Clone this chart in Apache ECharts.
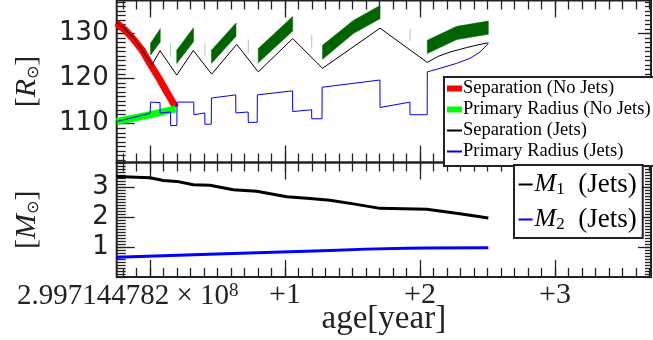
<!DOCTYPE html>
<html><head><meta charset="utf-8">
<script src="https://cdn.jsdelivr.net/npm/echarts@6/dist/echarts.min.js"></script>
<style>html,body{margin:0;padding:0;background:#fff}#c{width:653px;height:340px}</style>
</head><body><div id="c"></div>
<script>
// ---- data (x = years after offset, y = value) ----
const sepNoJets = [[-0.247,132.35],[-0.185,130.8],[-0.124,128.8],[-0.06,126.4],[0,123.3],[0.074,119.7],[0.125,117.0],[0.16,115.2],[0.19,113.6]];
const priNoJets = [[-0.247,110.5],[0,112.0],[0.19,113.3]];
const sepJets = [[-0.247,132.5],[-0.185,131.0],[-0.124,129.1],[-0.06,126.4],[0.013,123.0],[0.074,126.2],[0.198,120.8],[0.321,126.25],[0.457,121.0],[0.642,127.6],[0.802,121.5],[1.057,128.9],[1.278,122.3],[1.704,131.2],[2.054,123.6],[2.13,124.9],[2.222,125.9],[2.346,126.9],[2.43,127.5],[2.506,127.95]];
const priJets = [[-0.247,110.5],[0.0,112.3],[0.005,114.8],[0.074,114.7],[0.075,112.4],[0.152,112.6],[0.153,109.6],[0.199,109.6],[0.2,114.8],[0.324,114.8],[0.325,112.0],[0.406,112.4],[0.407,109.9],[0.454,109.9],[0.455,115.7],[0.635,116.4],[0.636,112.4],[0.727,112.6],[0.728,110.3],[0.794,110.3],[0.795,116.4],[1.056,117.3],[1.057,112.7],[1.197,113.1],[1.198,111.1],[1.274,111.1],[1.275,118.1],[1.703,119.7],[1.704,113.6],[1.925,114.8],[1.926,112.0],[2.053,112.0],[2.054,121.5],[2.148,122.3],[2.272,123.4],[2.37,124.5],[2.444,125.9],[2.506,127.8]];
const bandT     = [[0.004,0.076],[0.198,0.322],[0.455,0.637],[0.802,1.057],[1.278,1.506,1.704],[2.054,2.272,2.506]];
const bandUpper = [[127.86,131.1],[126.32,131.3],[126.32,132.34],[126.69,133.81],[127.42,132.93,136.24],[128.52,131.6,132.78]];
const bandLower = [[125.21,128.15],[123.38,128.2],[123.38,129.4],[123.52,130.57],[124.29,130.0,133.31],[125.59,128.67,129.85]];
const markT  = [0.153,0.407,0.728,1.198,1.926];
const markLo = [124.84,125.0,125.72,126.69,128.37];
const markHi = [127.86,127.86,128.68,129.63,131.1];
const m1Jets = [[-0.247,3.35],[0,3.31],[0.099,3.22],[0.198,3.19],[0.321,3.08],[0.444,3.06],[0.617,2.91],[0.79,2.86],[1.013,2.68],[1.185,2.62],[1.333,2.56],[1.506,2.44],[1.704,2.29],[2.05,2.26],[2.296,2.11],[2.506,1.97]];
const m2Jets = [[-0.247,0.66],[0.494,0.77],[1.333,0.88],[1.6,0.93],[1.9,0.96],[2.05,0.97],[2.506,0.98]];
// ---- ticks / labels ----
const xMajor = [0,1,2,3];
const xLabelValues = [1,2,3];
const xTickLabels = ['+1','+2','+3'];
const xOffsetText = '2.997144782 × 10';
const xOffsetExp = '8';
const rTicks = [110,120,130];
const mTicks = [1,2,3];
const seriesNames = ['Separation (No Jets)','Primary Radius (No Jets)','Separation (Jets)','Primary Radius (Jets)','M1 (Jets)','M2 (Jets)'];

const X_MIN=-0.2467, X_MAX=3.711, R_MIN=101.4, R_MAX=137.34, M_MIN=0, M_MAX=3.82;
const INK='#222';
function steps(min,max,step){const o=[];for(let k=Math.ceil(min/step-1e-9);k*step<=max+1e-9;k++)o.push(+(k*step).toFixed(6));return o;}
const xMinor=steps(X_MIN,X_MAX,0.1), rMinor=steps(R_MIN,R_MAX,1), mMinor=steps(M_MIN,M_MAX,0.1);

function axisBase(extra){
  return Object.assign({type:'value',axisLine:{show:false,onZero:false},splitLine:{show:false},axisLabel:{show:false}},extra);
}
function tick(vals,len){return {show:true,inside:true,length:len,customValues:vals,lineStyle:{color:INK,width:1.3}};}
const xAxes=[], yAxes=[];
[0,1].forEach(g=>{
  const main = axisBase({gridIndex:g,position:'bottom',min:X_MIN,max:X_MAX,axisTick:tick(xMajor,17)});
  if(g===1){
    main.axisLabel={show:true,customValues:xLabelValues,margin:3,
      formatter:v=>xTickLabels[xLabelValues.indexOf(Math.round(v))],
      fontFamily:'Liberation Serif',fontSize:30,color:INK};
    main.name='age[year]';main.nameLocation='middle';main.nameGap=26;main.nameMoveOverlap=false;
    main.nameTextStyle={fontFamily:'Liberation Serif',fontSize:33,color:INK};
  }
  xAxes.push(main);
  xAxes.push(axisBase({gridIndex:g,position:'bottom',min:X_MIN,max:X_MAX,axisTick:tick(xMinor,9)}));
  xAxes.push(axisBase({gridIndex:g,position:'top',min:X_MIN,max:X_MAX,axisTick:tick(xMajor,17)}));
  xAxes.push(axisBase({gridIndex:g,position:'top',min:X_MIN,max:X_MAX,axisTick:tick(xMinor,9)}));
  const ymin=g===0?R_MIN:M_MIN, ymax=g===0?R_MAX:M_MAX, maj=g===0?rTicks:mTicks, mnr=g===0?rMinor:mMinor;
  const left=axisBase({gridIndex:g,position:'left',min:ymin,max:ymax,axisTick:tick(maj,18),
    axisLabel:{show:true,customValues:maj,margin:8,fontFamily:'DejaVu Sans',fontSize:26,color:INK},
    name:g===0?'{b|[}{i|R}{s|⊙}{b|]}':'{b|[}{i|M}{s|⊙}{b|]}',nameLocation:'middle',nameRotate:90,nameGap:75,nameMoveOverlap:false,
    nameTextStyle:{color:INK,rich:{
      b:{fontFamily:'Liberation Serif',fontSize:30,color:INK},
      i:{fontFamily:'Liberation Serif',fontStyle:'italic',fontSize:30,color:INK},
      s:{fontFamily:'DejaVu Sans',fontSize:16,color:INK,verticalAlign:'bottom'}}}});
  yAxes.push(left);
  yAxes.push(axisBase({gridIndex:g,position:'left',min:ymin,max:ymax,axisTick:tick(mnr,9)}));
  yAxes.push(axisBase({gridIndex:g,position:'right',min:ymin,max:ymax,axisTick:tick(maj,13)}));
  yAxes.push(axisBase({gridIndex:g,position:'right',min:ymin,max:ymax,axisTick:tick(mnr,6)}));
});

function lineSeries(name,data,color,width,g,z){
  return {name,type:'line',data,xAxisIndex:g*4,yAxisIndex:g*4,showSymbol:false,symbol:'none',
    lineStyle:{color,width,cap:'butt',join:'round'},itemStyle:{color},z,clip:true,silent:true};
}
const series=[
  lineSeries(seriesNames[0],sepNoJets,'#ff0000',7,0,2),
  lineSeries(seriesNames[1],priNoJets,'#00ff00',7,0,2),
  lineSeries(seriesNames[2],sepJets,'#000000',1,0,3),
  lineSeries(seriesNames[3],priJets,'#0000ff',1,0,3),
  {type:'custom',xAxisIndex:0,yAxisIndex:0,z:4,silent:true,
    data:bandT.map((t,i)=>[t[0],bandLower[i][0],i]),
    renderItem:(params,api)=>{
      const i=api.value(2), pts=[];
      bandT[i].forEach((t,k)=>pts.push(api.coord([t,bandUpper[i][k]])));
      for(let k=bandT[i].length-1;k>=0;k--)pts.push(api.coord([bandT[i][k],bandLower[i][k]]));
      return {type:'polygon',shape:{points:pts},style:{fill:'#006400',stroke:'#006400',lineWidth:0.5}};
    }},
  {type:'custom',xAxisIndex:0,yAxisIndex:0,z:4,silent:true,
    data:markT.map((t,i)=>[t,markLo[i],i]),
    renderItem:(params,api)=>{
      const i=api.value(2), a=api.coord([markT[i],markLo[i]]), b=api.coord([markT[i],markHi[i]]);
      return {type:'line',shape:{x1:a[0],y1:a[1],x2:b[0],y2:b[1]},style:{stroke:'#9fcf9f',lineWidth:1}};
    }},
  lineSeries(seriesNames[4],m1Jets,'#000000',3,1,3),
  lineSeries(seriesNames[5],m2Jets,'#0000ff',3,1,3)
];

const hideDot={opacity:0};
const chart=echarts.init(document.getElementById('c'),null,{renderer:'canvas'});
chart.setOption({
  animation:false,backgroundColor:'#fff',
  grid:[
    {left:116.7,right:2,top:0.5,height:162,show:true,borderColor:INK,borderWidth:2,backgroundColor:'transparent',outerBoundsMode:'none'},
    {left:116.7,right:2,top:162.5,height:114.5,show:true,borderColor:INK,borderWidth:2,backgroundColor:'transparent',outerBoundsMode:'none'}
  ],
  xAxis:xAxes,yAxis:yAxes,
  legend:[
    {orient:'vertical',left:444,top:77,padding:[2,6,5,2],itemGap:2,itemWidth:15,itemHeight:6,
     backgroundColor:'#fff',borderColor:INK,borderWidth:2,selectedMode:false,z:10,
     textStyle:{fontFamily:'Liberation Serif',fontSize:18.5,color:'#000',padding:[0,0,0,-4]},
     data:[{name:seriesNames[0],icon:'rect'},{name:seriesNames[1],icon:'rect'},
           {name:seriesNames[2],itemStyle:hideDot},{name:seriesNames[3],itemStyle:hideDot}]},
    {orient:'vertical',left:514,top:165,padding:[6,6,5,2],itemGap:8,itemWidth:14,itemHeight:24,
     backgroundColor:'#fff',borderColor:INK,borderWidth:2,selectedMode:false,z:10,
     textStyle:{fontFamily:'Liberation Serif',fontSize:26,color:'#000',padding:[0,0,0,-3],rich:{
       i:{fontFamily:'Liberation Serif',fontStyle:'italic',fontSize:26,color:'#000'},
       s:{fontFamily:'Liberation Serif',fontSize:17,color:'#000',verticalAlign:'bottom'},
       n:{fontFamily:'Liberation Serif',fontSize:27,color:'#000'}}},
     formatter:n=>n===seriesNames[4]?'{i|M}{s|1}{n|  (Jets)}':'{i|M}{s|2}{n|  (Jets)}',
     data:[{name:seriesNames[4],itemStyle:hideDot},{name:seriesNames[5],itemStyle:hideDot}]}
  ],
  graphic:[{type:'text',x:17,y:296.5,silent:true,
    style:{text:'{a|'+xOffsetText+'}{b|'+xOffsetExp+'}',verticalAlign:'middle',align:'left',
      rich:{a:{fontFamily:'Liberation Serif',fontSize:29,fill:INK},b:{fontFamily:'Liberation Serif',fontSize:19,fill:INK,verticalAlign:'top'}}}}],
  series
});
</script></body></html>
